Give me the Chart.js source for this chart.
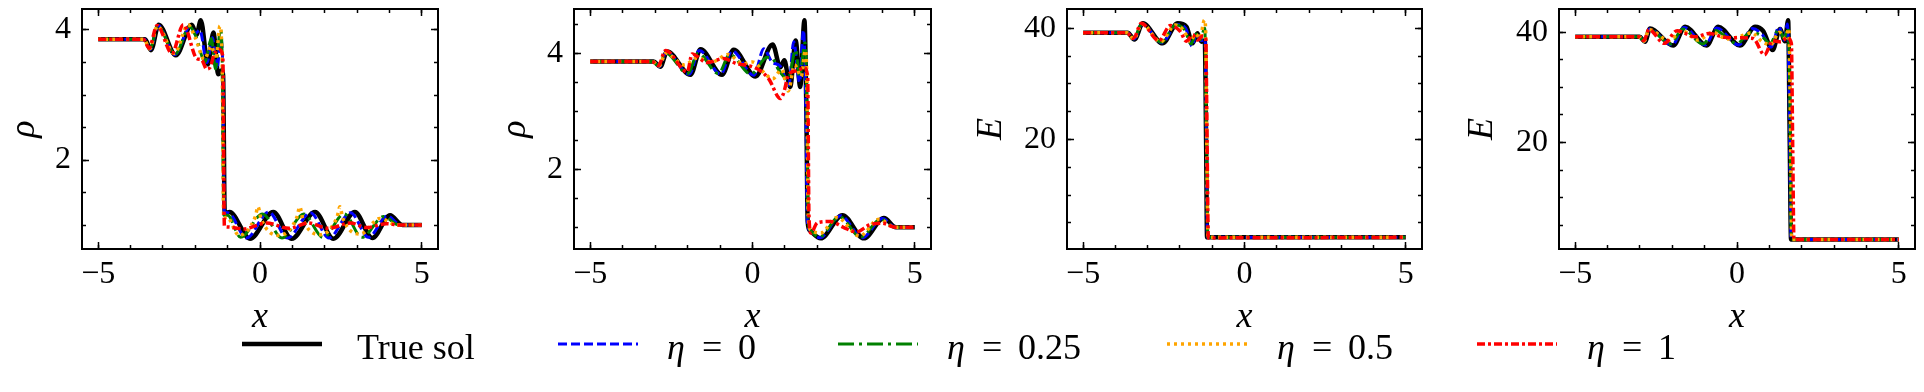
<!DOCTYPE html>
<html>
<head>
<meta charset="utf-8">
<script src="https://cdn.jsdelivr.net/npm/chart.js@4.4.1/dist/chart.umd.min.js"></script>
<style>
  html, body { margin: 0; padding: 0; background: #fff; }
  #fig { position: relative; width: 1924px; height: 392px; }
  #fig canvas { position: absolute; left: 0; top: 0; }
</style>
</head>
<body>
<div id="fig">
  <canvas id="c1" width="1924" height="392"></canvas>
  <canvas id="c2" width="1924" height="392"></canvas>
  <canvas id="c3" width="1924" height="392"></canvas>
  <canvas id="c4" width="1924" height="392"></canvas>
  <canvas id="leg" width="1924" height="392"></canvas>
</div>
<script>
// curve samples (x, value) -- one pair per curve

// panel 1: density, earlier time
const p1TrueX = [-5, -3.55, -3.37, -3.13, -2.6, -2.11, -1.96, -1.83, -1.61, -1.44, -1.29, -1.18, -1.14, -1.09, -0.94, -0.31, 0.41, 0.98, 1.70, 2.27, 2.93, 3.47, 4.02, 4.4, 5];
const p1TrueY = [3.857, 3.857, 3.69, 4.08, 3.61, 4.08, 3.93, 4.15, 3.47, 3.96, 3.32, 3.38, 3.3, 1.18, 1.2, 0.79, 1.2, 0.79, 1.2, 0.79, 1.2, 0.8, 1.15, 1.0, 1.0];
const p1Eta0X = [-5, -3.57, -3.39, -3.15, -2.63, -2.15, -1.99, -1.86, -1.64, -1.47, -1.33, -1.21, -1.16, -1.1, -0.99, -0.42, 0.27, 0.85, 1.56, 2.13, 2.8, 3.35, 3.93, 4.35, 5];
const p1Eta0Y = [3.857, 3.857, 3.7, 4.07, 3.62, 4.06, 3.95, 4.0, 3.5, 3.88, 3.4, 3.85, 3.6, 1.2, 1.19, 0.8, 1.2, 0.8, 1.19, 0.8, 1.19, 0.81, 1.14, 1.0, 1.0];
const p1Eta025X = [-5, -3.58, -3.4, -3.16, -2.62, -2.17, -1.98, -1.7, -1.5, -1.38, -1.22, -1.17, -1.12, -1.0, -0.6, 0.08, 0.68, 1.35, 1.95, 2.6, 3.15, 3.82, 4.3, 5];
const p1Eta025Y = [3.857, 3.857, 3.71, 4.06, 3.63, 4.05, 3.9, 3.51, 3.87, 3.4, 4.0, 3.6, 1.15, 1.15, 0.81, 1.17, 0.8, 1.17, 0.81, 1.17, 0.81, 1.13, 1.0, 1.0];
const p1Eta05X = [-5, -3.58, -3.41, -3.17, -2.65, -2.22, -2.0, -1.72, -1.5, -1.36, -1.24, -1.17, -1.12, -1.02, -0.65, -0.15, -0.06, 0.03, 0.6, 1.14, 1.23, 1.32, 1.85, 2.38, 2.47, 2.56, 3.1, 3.7, 4.25, 5];
const p1Eta05Y = [3.857, 3.857, 3.71, 4.06, 3.64, 4.08, 3.88, 3.55, 3.75, 3.55, 4.06, 3.5, 1.1, 1.12, 0.84, 1.12, 1.28, 1.1, 0.84, 1.12, 1.28, 1.1, 0.85, 1.12, 1.28, 1.1, 0.86, 1.1, 1.0, 1.0];
const p1Eta1X = [-5, -3.6, -3.43, -3.18, -2.72, -2.37, -1.95, -1.8, -1.65, -1.55, -1.42, -1.26, -1.15, -1.1, -1.0, -0.5, 0.2, 0.9, 1.5, 2.1, 2.8, 3.3, 3.9, 4.3, 5];
const p1Eta1Y = [3.857, 3.857, 3.72, 4.07, 3.64, 4.08, 3.56, 3.54, 3.4, 3.42, 3.62, 3.7, 3.6, 0.98, 0.97, 0.94, 1.03, 0.95, 1.03, 0.95, 1.03, 0.96, 1.02, 1.0, 1.0];

// panel 2: density, later time
const p2TrueX = [-5, -3.05, -2.84, -2.63, -1.91, -1.6, -0.94, -0.58, 0.09, 0.62, 0.86, 0.98, 1.16, 1.33, 1.47, 1.6, 1.66, 1.7, 1.76, 2.1, 2.77, 3.43, 4.05, 4.42, 5];
const p2TrueY = [3.857, 3.857, 3.77, 4.03, 3.63, 4.07, 3.63, 4.06, 3.6, 4.15, 3.76, 3.88, 3.42, 4.22, 3.42, 4.57, 3.0, 1.1, 0.95, 0.81, 1.21, 0.81, 1.16, 1.0, 1.0];
const p2Eta0X = [-5, -3.07, -2.86, -2.66, -1.95, -1.64, -0.98, -0.63, 0.04, 0.35, 0.6, 0.85, 1.12, 1.27, 1.45, 1.57, 1.64, 1.69, 1.76, 2.07, 2.72, 3.38, 4.0, 4.4, 5];
const p2Eta0Y = [3.857, 3.857, 3.77, 4.02, 3.64, 4.05, 3.64, 4.04, 3.62, 4.08, 3.85, 3.78, 3.45, 4.2, 3.5, 4.4, 3.2, 1.1, 0.95, 0.82, 1.2, 0.82, 1.15, 1.0, 1.0];
const p2Eta025X = [-5, -3.08, -2.88, -2.68, -2.0, -1.68, -1.05, -0.7, -0.05, 0.45, 0.6, 0.8, 1.1, 1.33, 1.45, 1.62, 1.67, 1.71, 1.78, 2.05, 2.68, 3.33, 3.95, 4.38, 5];
const p2Eta025Y = [3.857, 3.857, 3.78, 4.01, 3.65, 4.0, 3.65, 3.98, 3.64, 3.93, 3.92, 3.72, 3.55, 4.06, 3.6, 4.18, 3.3, 1.15, 0.95, 0.83, 1.18, 0.83, 1.14, 1.0, 1.0];
const p2Eta05X = [-5, -3.08, -2.88, -2.68, -2.1, -1.7, -1.25, -0.75, -0.3, 0.0, 0.4, 0.62, 0.9, 1.1, 1.3, 1.5, 1.63, 1.68, 1.72, 1.8, 2.1, 2.6, 3.3, 3.9, 4.38, 5];
const p2Eta05Y = [3.857, 3.857, 3.78, 4.0, 3.8, 3.92, 3.85, 3.98, 3.82, 3.85, 3.64, 3.56, 3.72, 3.35, 3.8, 3.6, 4.05, 3.4, 1.15, 0.95, 0.9, 1.17, 0.85, 1.14, 1.0, 1.0];
const p2Eta1X = [-5, -3.1, -2.9, -2.68, -2.01, -1.86, -1.4, -0.89, -0.48, -0.07, 0.24, 0.5, 0.86, 0.95, 1.12, 1.38, 1.6, 1.7, 1.74, 1.8, 2.0, 2.4, 2.8, 3.2, 3.6, 4.0, 4.4, 5];
const p2Eta1Y = [3.857, 3.857, 3.79, 4.05, 3.68, 3.99, 3.84, 3.91, 3.82, 3.78, 3.7, 3.56, 3.22, 3.3, 3.64, 3.7, 3.75, 3.6, 1.2, 0.9, 1.08, 1.1, 1.0, 0.92, 1.04, 1.07, 1.0, 1.0];

// panel 3: energy, earlier time
const p3TrueX = [-5, -3.62, -3.41, -3.15, -2.54, -2.07, -1.8, -1.61, -1.46, -1.33, -1.23, -1.19, -1.16, 5];
const p3TrueY = [39.2, 39.2, 38.0, 40.9, 37.3, 40.9, 40.3, 37.3, 39.1, 37.6, 37.8, 20, 2.4, 2.4];
const p3Eta0X = [-5, -3.63, -3.42, -3.17, -2.56, -2.09, -1.82, -1.63, -1.48, -1.35, -1.22, -1.18, -1.15, 5];
const p3Eta0Y = [39.2, 39.2, 38.1, 40.8, 37.4, 40.7, 40.0, 36.8, 39.2, 37.8, 38.0, 20, 2.4, 2.4];
const p3Eta025X = [-5, -3.64, -3.43, -3.18, -2.58, -2.12, -1.85, -1.66, -1.5, -1.38, -1.23, -1.18, -1.14, 5];
const p3Eta025Y = [39.2, 39.2, 38.1, 40.8, 37.5, 40.6, 39.7, 37.2, 39.0, 37.9, 40.0, 20, 2.4, 2.4];
const p3Eta05X = [-5, -3.64, -3.43, -3.18, -2.6, -2.14, -1.88, -1.68, -1.52, -1.38, -1.24, -1.2, -1.17, -1.13, 5];
const p3Eta05Y = [39.2, 39.2, 38.1, 40.8, 37.6, 40.6, 39.6, 37.6, 39.0, 38.2, 41.5, 39.0, 20, 2.4, 2.4];
const p3Eta1X = [-5, -3.65, -3.44, -3.2, -2.65, -2.3, -2.0, -1.8, -1.6, -1.45, -1.3, -1.2, -1.16, -1.12, 5];
const p3Eta1Y = [39.2, 39.2, 38.2, 40.9, 37.8, 40.5, 39.5, 37.7, 38.8, 37.9, 38.6, 38.0, 20, 2.3, 2.4];

// panel 4: energy, later time
const p4TrueX = [-5, -3.01, -2.84, -2.69, -1.97, -1.6, -0.94, -0.58, 0.09, 0.56, 0.8, 1.1, 1.33, 1.48, 1.58, 1.63, 1.67, 5];
const p4TrueY = [39.2, 39.2, 38.3, 40.7, 37.6, 41.0, 37.6, 41.0, 37.6, 41.0, 40.3, 36.8, 40.6, 38.4, 42.2, 20, 2.4, 2.4];
const p4Eta0X = [-5, -3.02, -2.86, -2.71, -2.0, -1.64, -0.98, -0.63, 0.05, 0.48, 0.78, 1.05, 1.3, 1.45, 1.56, 1.62, 1.67, 5];
const p4Eta0Y = [39.2, 39.2, 38.3, 40.6, 37.7, 40.9, 37.7, 40.8, 37.7, 40.7, 39.6, 37.3, 41.0, 38.6, 41.5, 25, 2.4, 2.4];
const p4Eta025X = [-5, -3.03, -2.87, -2.72, -2.05, -1.68, -1.05, -0.7, 0.0, 0.42, 0.75, 1.02, 1.3, 1.45, 1.58, 1.64, 1.68, 5];
const p4Eta025Y = [39.2, 39.2, 38.4, 40.5, 37.9, 40.6, 37.9, 40.4, 38.0, 40.0, 39.4, 38.0, 40.6, 38.9, 40.8, 25, 2.4, 2.4];
const p4Eta05X = [-5, -3.03, -2.87, -2.72, -2.1, -1.7, -1.2, -0.75, -0.3, 0.1, 0.45, 0.8, 1.05, 1.3, 1.5, 1.6, 1.65, 1.69, 5];
const p4Eta05Y = [39.2, 39.2, 38.4, 40.5, 38.5, 40.3, 38.6, 40.0, 38.8, 39.3, 39.9, 38.2, 37.8, 40.0, 39.0, 40.7, 25, 2.4, 2.4];
const p4Eta1X = [-5, -3.04, -2.88, -2.72, -2.25, -1.85, -1.3, -0.85, -0.4, 0.1, 0.5, 0.85, 1.1, 1.35, 1.55, 1.68, 1.72, 1.76, 5];
const p4Eta1Y = [39.2, 39.2, 38.5, 40.5, 38.0, 40.3, 39.2, 39.8, 39.1, 39.0, 38.9, 35.9, 38.5, 38.3, 39.0, 38.0, 20, 2.4, 2.4];

// legend names and ticks
const seriesNames = ['True sol', 'η = 0', 'η = 0.25', 'η = 0.5', 'η = 1'];
const xTicks = [-5, 0, 5];
const xMinorTicks = [-5, -4, -3, -2, -1, 0, 1, 2, 3, 4, 5];
const rhoTicks = [2, 4];
const rhoMinorTicks = [1, 1.5, 2, 2.5, 3, 3.5, 4, 4.5];
const eTicks = [20, 40];
const eMinorTicks = [5, 10, 15, 20, 25, 30, 35, 40];

// line styles, same order as seriesNames
const colors = ['#000000', '#0000ff', '#008000', '#ffa500', '#ff0000'];
const widths = [4.5, 3, 3, 3.5, 3.5];
const dashes = [[], [9, 4], [16, 5, 3, 5], [3, 4], [8, 3, 3, 3]];

const SERIF = 'Liberation Serif';
Chart.defaults.font.family = SERIF;
Chart.defaults.color = '#000';

function fmt(v) { return v < 0 ? '\u2212' + Math.abs(v) : String(v); }

function tickAxis(axis, position, min, max, values, len, weight, size) {
  return {
    axis, type: 'linear', position, min, max, weight,
    afterBuildTicks: s => { s.ticks = values.map(v => ({ value: v })); },
    ticks: { display: false, autoSkip: false },
    grid: { drawOnChartArea: false, tickLength: -len, tickWidth: 1.5, tickColor: '#000' },
    border: { display: false },
    afterFit: s => {
      if (axis === 'x') s.height = size; else s.width = size;
      s.paddingLeft = s.paddingRight = s.paddingTop = s.paddingBottom = 0;
    }
  };
}

function makePanel(id, xs, ys, label, yMin, yMax, yMajor, yMinor, padL, plotL, plotR) {
  const datasets = xs.map((xArr, i) => ({
    label: seriesNames[i],
    data: xArr.map((x, j) => ({ x, y: ys[i][j] })),
    borderColor: colors[i],
    borderWidth: widths[i],
    borderDash: dashes[i],
    borderJoinStyle: 'round',
    pointRadius: 0,
    cubicInterpolationMode: 'monotone',
    fill: false,
    order: 5 - i,
    xAxisID: 'x', yAxisID: 'y'
  }));

  const x = tickAxis('x', 'bottom', -5.5, 5.5, xTicks, 7, 1, 90);
  x.ticks = { display: true, autoSkip: false, maxRotation: 0, minRotation: 0, padding: 13,
              font: { family: SERIF, size: 32 }, color: '#000', callback: v => fmt(v) };
  x.border = { display: true, color: '#000', width: 2 };
  x.title = { display: true, text: 'x', padding: 0, color: '#000',
              font: { family: SERIF, size: 36, style: 'italic' } };

  const y = tickAxis('y', 'left', yMin, yMax, yMajor, 7, 1, plotL - padL);
  y.ticks = { display: true, autoSkip: false, padding: 18,
              font: { family: SERIF, size: 32 }, color: '#000', callback: v => fmt(v) };
  y.border = { display: true, color: '#000', width: 2 };
  y.title = { display: true, text: label, padding: 0, color: '#000',
              font: { family: SERIF, size: 36, style: 'italic' } };

  const xt = tickAxis('x', 'top', -5.5, 5.5, xTicks, 7, 1, 0);
  xt.border = { display: true, color: '#000', width: 2 };
  const yr = tickAxis('y', 'right', yMin, yMax, yMajor, 7, 1, 0);
  yr.border = { display: true, color: '#000', width: 2 };

  return new Chart(document.getElementById(id), {
    type: 'line',
    data: { datasets },
    options: {
      responsive: false,
      animation: false,
      events: [],
      layout: { padding: { left: padL, top: 9, right: 1924 - plotR, bottom: 53 } },
      plugins: { legend: { display: false }, tooltip: { enabled: false } },
      scales: {
        x, y, xt, yr,
        xm: tickAxis('x', 'bottom', -5.5, 5.5, xMinorTicks, 4, 0, 0),
        xtm: tickAxis('x', 'top', -5.5, 5.5, xMinorTicks, 4, 0, 0),
        ym: tickAxis('y', 'left', yMin, yMax, yMinor, 4, 0, 0),
        yrm: tickAxis('y', 'right', yMin, yMax, yMinor, 4, 0, 0)
      }
    }
  });
}

makePanel('c1',
  [p1TrueX, p1Eta0X, p1Eta025X, p1Eta05X, p1Eta1X],
  [p1TrueY, p1Eta0Y, p1Eta025Y, p1Eta05Y, p1Eta1Y],
  'ρ', 0.631, 4.323, rhoTicks, rhoMinorTicks, 3.4, 82, 438);
makePanel('c2',
  [p2TrueX, p2Eta0X, p2Eta025X, p2Eta05X, p2Eta1X],
  [p2TrueY, p2Eta0Y, p2Eta025Y, p2Eta05Y, p2Eta1Y],
  'ρ', 0.626, 4.764, rhoTicks, rhoMinorTicks, 493.5, 574, 931);
makePanel('c3',
  [p3TrueX, p3Eta0X, p3Eta025X, p3Eta05X, p3Eta1X],
  [p3TrueY, p3Eta0Y, p3Eta025Y, p3Eta05Y, p3Eta1Y],
  'E', 0.3, 43.48, eTicks, eMinorTicks, 969.6, 1067, 1422);
makePanel('c4',
  [p4TrueX, p4Eta0X, p4Eta025X, p4Eta05X, p4Eta1X],
  [p4TrueY, p4Eta0Y, p4Eta025Y, p4Eta05Y, p4Eta1Y],
  'E', 0.67, 44.24, eTicks, eMinorTicks, 1461.3, 1559, 1915);

// shared figure legend along the bottom
const legendLineX = [242, 558, 838, 1167, 1477];
const legendTextX = [357, 667, 947, 1277, 1587];
const figLegend = {
  id: 'figLegend',
  afterDraw(chart) {
    const ctx = chart.ctx;
    chart.data.datasets.forEach((ds, i) => {
      const lx = legendLineX[i], tx = legendTextX[i];
      ctx.save();
      ctx.strokeStyle = ds.borderColor;
      ctx.lineWidth = ds.borderWidth;
      ctx.setLineDash(ds.borderDash);
      ctx.beginPath();
      ctx.moveTo(lx, 344);
      ctx.lineTo(lx + 80, 344);
      ctx.stroke();
      ctx.restore();

      ctx.save();
      ctx.fillStyle = '#000';
      ctx.textBaseline = 'alphabetic';
      const name = ds.label;
      if (name.startsWith('η')) {
        ctx.font = 'italic 36px "' + SERIF + '"';
        ctx.fillText('η', tx, 359);
        ctx.font = '36px "' + SERIF + '"';
        ctx.fillText('=', tx + 35, 359);
        ctx.fillText(name.split('=')[1].trim(), tx + 71, 359);
      } else {
        ctx.font = '36px "' + SERIF + '"';
        ctx.fillText(name, tx, 359);
      }
      ctx.restore();
    });
  }
};

new Chart(document.getElementById('leg'), {
  type: 'line',
  data: {
    datasets: seriesNames.map((name, i) => ({
      label: name, data: [], borderColor: colors[i], borderWidth: widths[i], borderDash: dashes[i]
    }))
  },
  options: {
    responsive: false,
    animation: false,
    events: [],
    plugins: { legend: { display: false }, tooltip: { enabled: false } },
    scales: { x: { display: false }, y: { display: false } }
  },
  plugins: [figLegend]
});
</script>
</body>
</html>
